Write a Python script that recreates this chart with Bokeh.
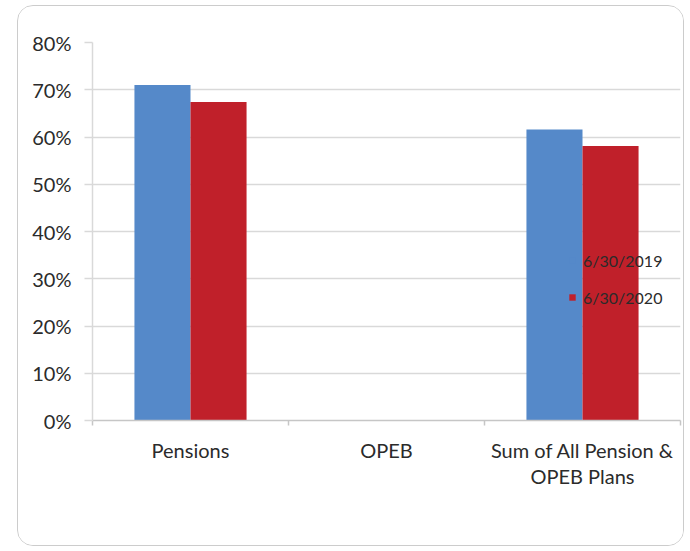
from bokeh.plotting import figure
from bokeh.models import (ColumnDataSource, NumeralTickFormatter, FixedTicker,
                          Legend, LegendItem, LinearAxis, Range1d)
from bokeh.transform import dodge
from bokeh.embed import file_html
from bokeh.resources import INLINE

# ---- data ----
categories = ["Pensions", "OPEB", "Sum of All Pension &\nOPEB Plans"]
series_names = ["6/30/2019", "6/30/2020"]
values_2019 = [0.710, 0.0, 0.616]
values_2020 = [0.674, 0.0, 0.581]
y_ticks = [0.0, 0.1, 0.2, 0.3, 0.4, 0.5, 0.6, 0.7, 0.8]

# ---- style ----
FONT = "Lato"
TEXT = "#2b2b2b"
GRID = "#d9d9d9"
AXIS = "#c6c6c6"
colors = ["#5589C9", "#C0202A"]
bar_w = 0.286

n = len(categories)
centers = [i + 0.5 for i in range(n)]
source = ColumnDataSource(dict(x=centers, v2019=values_2019, v2020=values_2020))

p = figure(width=667, height=541,
           x_range=Range1d(0, n),
           y_range=Range1d(y_ticks[0], y_ticks[-1]),
           output_backend="svg", toolbar_location=None,
           x_axis_location=None, y_axis_location="left",
           min_border_left=74, min_border_right=5, min_border_top=36, min_border_bottom=127)
p.outline_line_color = None
p.background_fill_color = "white"
p.border_fill_color = "white"
p.styles = {"border": "1px solid #cccccc", "border-radius": "16px",
            "margin-left": "17px", "margin-top": "5px", "overflow": "hidden"}

r1 = p.vbar(x=dodge("x", -bar_w / 2), top="v2019", width=bar_w,
            source=source, fill_color=colors[0], line_color=None)
r2 = p.vbar(x=dodge("x", bar_w / 2), top="v2020", width=bar_w,
            source=source, fill_color=colors[1], line_color=None)

# y axis
ya = p.yaxis[0]
ya.ticker = FixedTicker(ticks=y_ticks)
ya.formatter = NumeralTickFormatter(format="0%")
ya.major_tick_out = 8
ya.major_tick_in = 0
ya.minor_tick_line_color = None
ya.axis_line_color = GRID
ya.axis_line_width = 1.5
ya.major_tick_line_color = GRID
ya.major_tick_line_width = 1.5
ya.major_label_standoff = 13
ya.major_label_text_font = FONT
ya.major_label_text_font_size = "20px"
ya.major_label_text_color = TEXT

p.xgrid.grid_line_color = None
p.ygrid.grid_line_color = GRID
p.ygrid.grid_line_width = 1.5
p.ygrid.ticker = FixedTicker(ticks=y_ticks)

# x axis: labels at category centres, small ticks at category boundaries
x_axis = LinearAxis(ticker=FixedTicker(ticks=centers, minor_ticks=list(range(n + 1))),
                    major_label_overrides={c: lab for c, lab in zip(centers, categories)},
                    major_tick_line_color=None,
                    minor_tick_out=5, minor_tick_in=0,
                    minor_tick_line_color=AXIS, minor_tick_line_width=1.5,
                    axis_line_color=AXIS, axis_line_width=1.5,
                    major_label_standoff=11,
                    major_label_text_font=FONT,
                    major_label_text_font_size="20px",
                    major_label_text_color=TEXT,
                    major_label_text_line_height=1.1)
p.add_layout(x_axis, "below")

legend = Legend(items=[LegendItem(label=series_names[0], renderers=[r1]),
                       LegendItem(label=series_names[1], renderers=[r2])],
                location=(476, 113), orientation="vertical",
                padding=0, margin=0, spacing=17,
                label_height=20, glyph_width=8, glyph_height=8, label_standoff=7,
                background_fill_alpha=0, border_line_color=None,
                label_text_font=FONT, label_text_font_size="16px",
                label_text_color=TEXT)
p.add_layout(legend)

open("out.html", "w").write(file_html(p, INLINE))
